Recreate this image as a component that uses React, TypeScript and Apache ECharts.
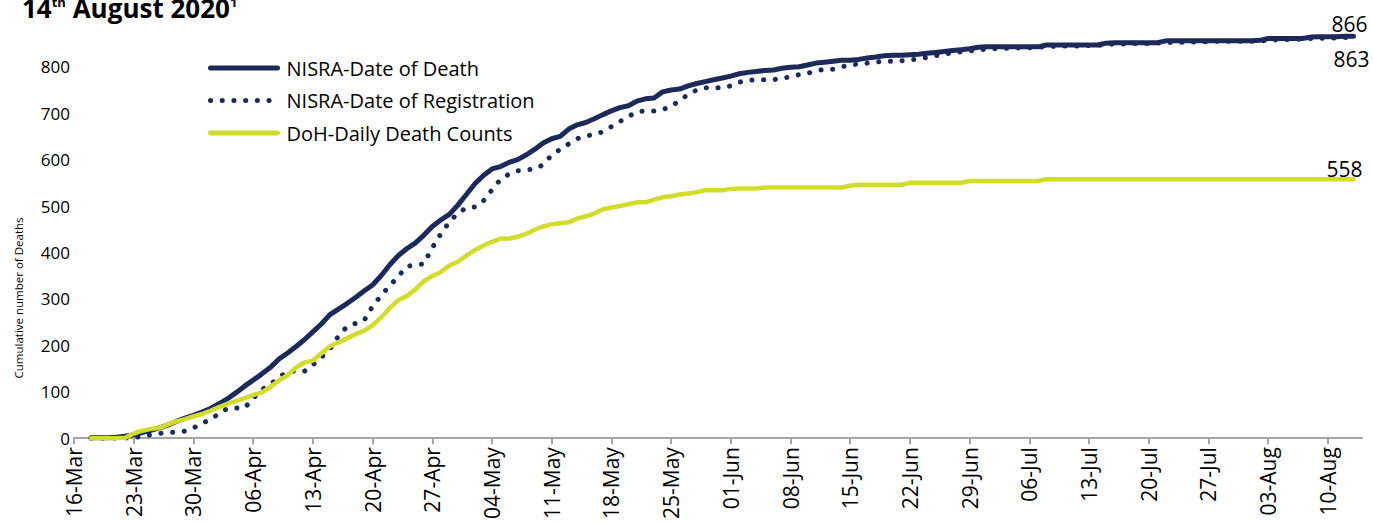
import React, { useEffect, useRef } from "react";
import * as echarts from "echarts";

const FONT = '"Open Sans", sans-serif';
const NAVY = "#1C2A5A";
const LIME = "#D0DD2A";

const MONTHS = ["Jan", "Feb", "Mar", "Apr", "May", "Jun", "Jul", "Aug", "Sep", "Oct", "Nov", "Dec"];
const START_YEAR = 2020;
const START_MONTH = 2; // March
const START_DAY = 16;
const DAY_COUNT = 152; // 16-Mar .. 14-Aug
const DATA_OFFSET = 2; // series start on 18-Mar

const categories: string[] = [];
for (let i = 0; i < DAY_COUNT; i++) {
  const dt = new Date(Date.UTC(START_YEAR, START_MONTH, START_DAY + i));
  categories.push(String(dt.getUTCDate()).padStart(2, "0") + "-" + MONTHS[dt.getUTCMonth()]);
}

const yTicks = [0, 100, 200, 300, 400, 500, 600, 700, 800];

// NISRA - Date of Death (18-Mar .. 13-Aug)
const nisraDeath = [
  1, 1, 1, 2, 4, 7, 12, 17, 22, 28,
  36, 43, 49, 56, 64, 74, 85, 98, 112, 125,
  138, 152, 170, 183, 197, 212, 229, 246, 266, 278,
  290, 303, 317, 330, 350, 373, 393, 408, 420, 437,
  456, 470, 482, 502, 525, 548, 566, 580, 585, 594,
  600, 610, 622, 636, 645, 650, 666, 675, 680, 688,
  697, 705, 712, 716, 726, 731, 733, 746, 750, 752,
  759, 764, 768, 772, 776, 780, 785, 788, 790, 792,
  793, 797, 799, 800, 804, 808, 810, 812, 814, 814,
  816, 819, 821, 824, 825, 825, 826, 827, 829, 831,
  833, 835, 837, 839, 842, 843, 843, 843, 843, 843,
  843, 843, 847, 847, 847, 847, 847, 847, 847, 851,
  852, 852, 852, 852, 852, 852, 856, 856, 856, 856,
  856, 856, 856, 856, 856, 856, 856, 857, 861, 861,
  861, 861, 861, 864, 865, 865, 865, 866, 866,
];

// NISRA - Date of Registration
const nisraRegistration = [
  0, 0, 0, 0, 0, 1, 4, 7, 10, 12,
  13, 15, 22, 32, 40, 53, 64, 65, 65, 86,
  104, 116, 130, 144, 144, 144, 158, 174, 192, 220,
  240, 247, 253, 284, 307, 328, 348, 370, 373, 375,
  410, 440, 465, 485, 496, 498, 511, 535, 557, 569,
  576, 578, 580, 589, 610, 622, 634, 645, 651, 654,
  660, 671, 682, 693, 703, 705, 705, 708, 714, 728,
  740, 750, 755, 755, 755, 759, 767, 771, 772, 772,
  772, 776, 778, 783, 786, 791, 795, 795, 800, 804,
  806, 808, 810, 812, 812, 813, 815, 817, 820, 824,
  827, 830, 832, 834, 836, 838, 839, 840, 840, 841,
  841, 842, 843, 844, 845, 845, 845, 846, 846, 848,
  849, 849, 850, 850, 850, 851, 852, 853, 853, 853,
  854, 854, 855, 855, 855, 855, 855, 855, 857, 858,
  859, 859, 860, 861, 861, 862, 862, 863, 863,
];

// DoH - Daily Death Counts
const dohDaily = [
  0, 0, 0, 0, 1, 10, 16, 20, 22, 29,
  36, 41, 47, 52, 59, 67, 74, 80, 86, 93,
  98, 110, 124, 135, 152, 163, 167, 183, 198, 206,
  215, 224, 231, 243, 260, 280, 297, 306, 320, 338,
  349, 358, 372, 380, 393, 405, 415, 423, 430, 430,
  434, 440, 449, 456, 461, 463, 465, 473, 478, 484,
  493, 497, 500, 504, 508, 508, 514, 519, 521, 525,
  527, 530, 534, 534, 534, 537, 538, 538, 538, 540,
  540, 540, 540, 540, 540, 540, 540, 540, 540, 544,
  546, 546, 546, 546, 546, 546, 550, 550, 550, 550,
  550, 550, 550, 554, 554, 554, 554, 554, 554, 554,
  554, 554, 558, 558, 558, 558, 558, 558, 558, 558,
  558, 558, 558, 558, 558, 558, 558, 558, 558, 558,
  558, 558, 558, 558, 558, 558, 558, 558, 558, 558,
  558, 558, 558, 558, 558, 558, 558, 558, 558,
];

const seriesNames = ["NISRA-Date of Death", "NISRA-Date of Registration", "DoH-Daily Death Counts"];

function pad(values: number[]) {
  const out: (number | null)[] = [];
  for (let i = 0; i < DAY_COUNT; i++) out.push(null);
  values.forEach((v, i) => {
    out[i + DATA_OFFSET] = v;
  });
  return out;
}

function endLabel(offset: number[]) {
  return {
    show: true,
    formatter: (p: any) => String(Array.isArray(p.value) ? p.value[1] : p.value),
    fontSize: 21,
    fontFamily: FONT,
    color: "#000",
    distance: 0,
    align: "center",
    verticalAlign: "middle",
    offset,
  };
}

export default function App() {
  const ref = useRef<HTMLDivElement>(null);
  useEffect(() => {
    if (!ref.current) return;
    const chart = echarts.init(ref.current, null, { renderer: "svg" });
    chart.setOption({
      animation: false,
      backgroundColor: "#fff",
      grid: { left: 74, right: 11, top: 20.4, bottom: 75, containLabel: false },
      legend: {
        orient: "vertical",
        left: 208,
        top: 58,
        padding: 0,
        itemWidth: 67,
        itemHeight: 14,
        itemGap: 12.5,
        data: seriesNames,
        itemStyle: { opacity: 0 },
        lineStyle: { width: 5 },
        textStyle: { fontSize: 20, fontFamily: FONT, color: "#000", padding: [0, 0, 0, 4] },
      },
      xAxis: {
        type: "category",
        data: categories,
        boundaryGap: false,
        axisLine: { show: true, lineStyle: { color: "#A6A6A6", width: 2 } },
        axisTick: { show: true, interval: 6, length: 6, lineStyle: { color: "#A6A6A6", width: 2 } },
        axisLabel: {
          interval: 6,
          rotate: 90,
          margin: 9,
          fontSize: 21,
          fontFamily: FONT,
          color: "#000",
        },
        splitLine: { show: false },
      },
      yAxis: {
        type: "value",
        min: 0,
        max: 900,
        interval: 100,
        axisLine: { show: false },
        axisTick: { show: false },
        splitLine: { show: false },
        axisLabel: {
          margin: 4,
          fontSize: 17,
          fontFamily: FONT,
          color: "#000",
          formatter: (v: number) => (yTicks.indexOf(v) >= 0 ? String(v) : ""),
        },
      },
      graphic: [
        {
          type: "text",
          left: 22,
          top: -5,
          style: {
            text: "{a|14}{s|th}{a| August 2020}{s|1}",
            rich: {
              a: { fontSize: 26, fontWeight: "bold", fontFamily: FONT, fill: "#000" },
              s: { fontSize: 13, fontWeight: "bold", fontFamily: FONT, fill: "#000", verticalAlign: "top" },
            },
          },
        },
        {
          type: "text",
          x: 18,
          y: 298,
          rotation: Math.PI / 2,
          style: {
            text: "Cumulative number of Deaths",
            fontSize: 11.5,
            fontFamily: FONT,
            fill: "#000",
            align: "center",
            verticalAlign: "middle",
          },
        },
      ],
      series: [
        {
          name: seriesNames[0],
          type: "line",
          symbol: "none",
          showSymbol: false,
          lineStyle: { color: NAVY, width: 5, cap: "round", join: "round" },
          itemStyle: { color: NAVY },
          endLabel: endLabel([-4, -12]),
          data: pad(nisraDeath),
        },
        {
          name: seriesNames[1],
          type: "line",
          symbol: "none",
          showSymbol: false,
          lineStyle: { color: NAVY, width: 5, type: [0.1, 11.6], cap: "round", join: "round" },
          itemStyle: { color: NAVY },
          endLabel: endLabel([-2, 21]),
          data: pad(nisraRegistration),
        },
        {
          name: seriesNames[2],
          type: "line",
          symbol: "none",
          showSymbol: false,
          lineStyle: { color: LIME, width: 4.5, cap: "round", join: "round" },
          itemStyle: { color: LIME },
          endLabel: endLabel([-9, -10]),
          data: pad(dohDaily),
        },
      ],
    });
    return () => chart.dispose();
  }, []);
  return (
    <div
      ref={ref}
      style={{ position: "fixed", left: 0, top: 0, width: 1373, height: 522, background: "#fff" }}
    />
  );
}
